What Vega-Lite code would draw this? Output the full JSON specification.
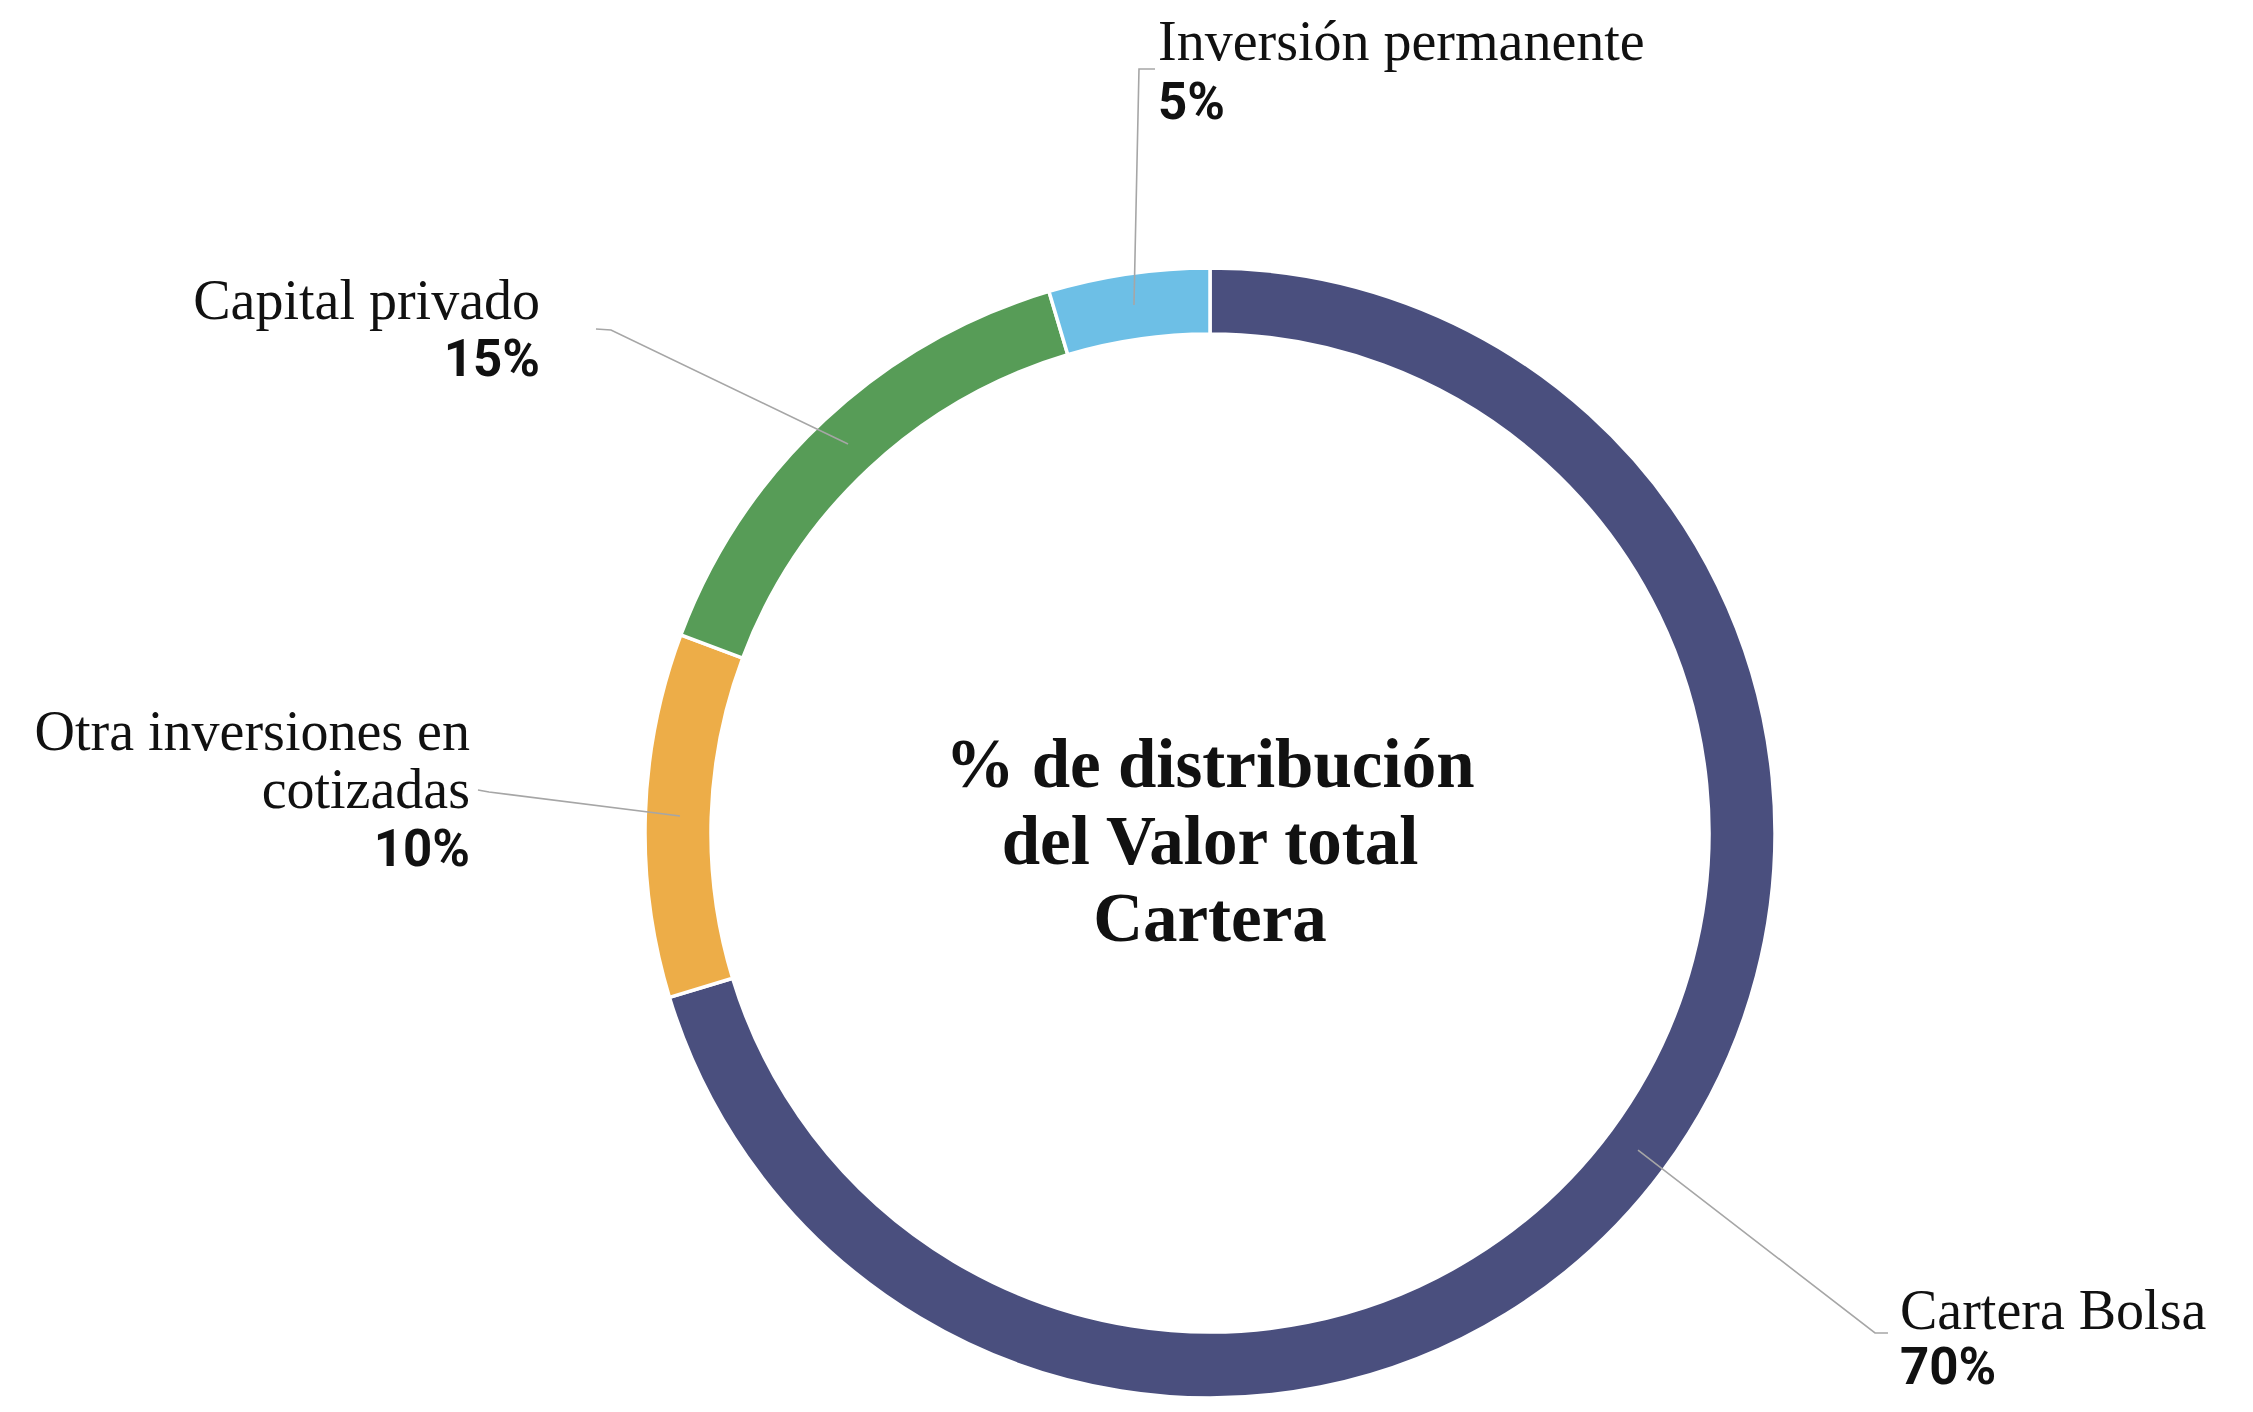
{
  "$schema": "https://vega.github.io/schema/vega-lite/v6.json",
  "width": 2086,
  "height": 1158,
  "autosize": {"type": "none"},
  "padding": {"left": 167, "top": 254, "right": 0, "bottom": 0},
  "background": "white",
  "config": {"view": {"stroke": null}},
  "datasets": {
    "shares": [
      {"categoria": "Cartera Bolsa", "porcentaje": 70.3, "orden": 1},
      {"categoria": "Otra inversiones en cotizadas", "porcentaje": 10.4, "orden": 2},
      {"categoria": "Capital privado", "porcentaje": 14.7, "orden": 3},
      {"categoria": "Inversión permanente", "porcentaje": 4.6, "orden": 4}
    ],
    "etiquetas": [
      {"categoria": "Cartera Bolsa", "nombre": "Cartera Bolsa", "valor": "70%", "lado": "derecha", "x": 122.34, "y_nombre": -87.94, "y_valor": -97.7},
      {"categoria": "Otra inversiones en cotizadas", "nombre": "Otra inversiones en\ncotizadas", "valor": "10%", "lado": "izquierda", "x": -131.21, "y_nombre": 14.72, "y_valor": -5.85},
      {"categoria": "Capital privado", "nombre": "Capital privado", "valor": "15%", "lado": "izquierda", "x": -118.79, "y_nombre": 91.13, "y_valor": 81.03},
      {"categoria": "Inversión permanente", "nombre": "Inversión permanente", "valor": "5%", "lado": "derecha", "x": -9.22, "y_nombre": 137.06, "y_valor": 126.6}
    ],
    "guias": [
      {"categoria": "Inversión permanente", "punto": 1, "x": -9.75, "y": 135.46},
      {"categoria": "Inversión permanente", "punto": 2, "x": -12.59, "y": 135.46},
      {"categoria": "Inversión permanente", "punto": 3, "x": -13.48, "y": 93.62},
      {"categoria": "Capital privado", "punto": 1, "x": -108.87, "y": 89.36},
      {"categoria": "Capital privado", "punto": 2, "x": -106.21, "y": 89.18},
      {"categoria": "Capital privado", "punto": 3, "x": -64.18, "y": 68.97},
      {"categoria": "Otra inversiones en cotizadas", "punto": 1, "x": -129.79, "y": 7.62},
      {"categoria": "Otra inversiones en cotizadas", "punto": 2, "x": -127.84, "y": 7.27},
      {"categoria": "Otra inversiones en cotizadas", "punto": 3, "x": -93.97, "y": 3.01},
      {"categoria": "Cartera Bolsa", "punto": 1, "x": 120.21, "y": -88.65},
      {"categoria": "Cartera Bolsa", "punto": 2, "x": 117.91, "y": -88.65},
      {"categoria": "Cartera Bolsa", "punto": 3, "x": 75.89, "y": -56.21}
    ],
    "titulo": [
      {"texto": "% de distribución\ndel Valor total\nCartera", "x": 0, "y": 0}
    ]
  },
  "layer": [
    {
      "data": {"name": "shares"},
      "mark": {"type": "arc", "innerRadius": 499, "outerRadius": 565, "stroke": "white", "strokeWidth": 3.5},
      "encoding": {
        "theta": {"field": "porcentaje", "type": "quantitative", "stack": true},
        "order": {"field": "orden", "type": "quantitative"},
        "color": {
          "field": "categoria",
          "type": "nominal",
          "scale": {
            "domain": ["Cartera Bolsa", "Otra inversiones en cotizadas", "Capital privado", "Inversión permanente"],
            "range": ["#4a4f7e", "#edad48", "#579c57", "#6dbfe6"]
          },
          "legend": null
        }
      }
    },
    {
      "data": {"name": "guias"},
      "mark": {"type": "line", "color": "#a6a6a6", "strokeWidth": 1.6},
      "encoding": {
        "x": {"field": "x", "type": "quantitative", "scale": {"domain": [-184.93, 184.93], "nice": false, "zero": false}, "axis": null},
        "y": {"field": "y", "type": "quantitative", "scale": {"domain": [-102.66, 102.66], "nice": false, "zero": false}, "axis": null},
        "detail": {"field": "categoria", "type": "nominal"},
        "order": {"field": "punto", "type": "quantitative"}
      }
    },
    {
      "data": {"name": "etiquetas"},
      "transform": [{"filter": "datum.lado === 'derecha'"}],
      "mark": {"type": "text", "align": "left", "baseline": "alphabetic", "font": "Liberation Serif", "fontSize": 56, "color": "#111111", "lineBreak": "\n", "lineHeight": 58},
      "encoding": {
        "x": {"field": "x", "type": "quantitative", "scale": {"domain": [-184.93, 184.93], "nice": false, "zero": false}, "axis": null},
        "y": {"field": "y_nombre", "type": "quantitative", "scale": {"domain": [-102.66, 102.66], "nice": false, "zero": false}, "axis": null},
        "text": {"field": "nombre", "type": "nominal"}
      }
    },
    {
      "data": {"name": "etiquetas"},
      "transform": [{"filter": "datum.lado === 'izquierda'"}],
      "mark": {"type": "text", "align": "right", "baseline": "alphabetic", "font": "Liberation Serif", "fontSize": 56, "color": "#111111", "lineBreak": "\n", "lineHeight": 58},
      "encoding": {
        "x": {"field": "x", "type": "quantitative", "scale": {"domain": [-184.93, 184.93], "nice": false, "zero": false}, "axis": null},
        "y": {"field": "y_nombre", "type": "quantitative", "scale": {"domain": [-102.66, 102.66], "nice": false, "zero": false}, "axis": null},
        "text": {"field": "nombre", "type": "nominal"}
      }
    },
    {
      "data": {"name": "etiquetas"},
      "transform": [{"filter": "datum.lado === 'derecha'"}],
      "mark": {"type": "text", "align": "left", "baseline": "alphabetic", "font": "Roboto", "fontWeight": "bold", "fontSize": 51, "color": "#111111"},
      "encoding": {
        "x": {"field": "x", "type": "quantitative", "scale": {"domain": [-184.93, 184.93], "nice": false, "zero": false}, "axis": null},
        "y": {"field": "y_valor", "type": "quantitative", "scale": {"domain": [-102.66, 102.66], "nice": false, "zero": false}, "axis": null},
        "text": {"field": "valor", "type": "nominal"}
      }
    },
    {
      "data": {"name": "etiquetas"},
      "transform": [{"filter": "datum.lado === 'izquierda'"}],
      "mark": {"type": "text", "align": "right", "baseline": "alphabetic", "font": "Roboto", "fontWeight": "bold", "fontSize": 51, "color": "#111111"},
      "encoding": {
        "x": {"field": "x", "type": "quantitative", "scale": {"domain": [-184.93, 184.93], "nice": false, "zero": false}, "axis": null},
        "y": {"field": "y_valor", "type": "quantitative", "scale": {"domain": [-102.66, 102.66], "nice": false, "zero": false}, "axis": null},
        "text": {"field": "valor", "type": "nominal"}
      }
    },
    {
      "data": {"name": "titulo"},
      "mark": {"type": "text", "align": "center", "baseline": "middle", "font": "Liberation Serif", "fontWeight": "bold", "fontSize": 69, "color": "#111111", "lineBreak": "\n", "lineHeight": 77, "dy": -67},
      "encoding": {
        "x": {"field": "x", "type": "quantitative", "scale": {"domain": [-184.93, 184.93], "nice": false, "zero": false}, "axis": null},
        "y": {"field": "y", "type": "quantitative", "scale": {"domain": [-102.66, 102.66], "nice": false, "zero": false}, "axis": null},
        "text": {"field": "texto", "type": "nominal"}
      }
    }
  ]
}
